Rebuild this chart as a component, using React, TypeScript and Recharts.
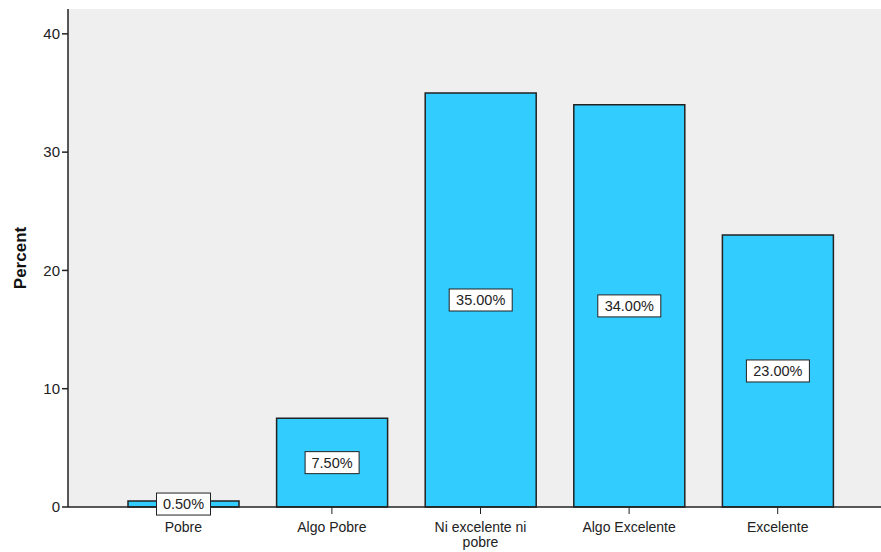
import { Bar, BarChart, CartesianGrid, LabelList, XAxis, YAxis } from "recharts";

// Share of responses per rating, in percent.
const categories = ["Pobre", "Algo Pobre", "Ni excelente ni pobre", "Algo Excelente", "Excelente"];
const percents = [0.5, 7.5, 35, 34, 23];
const yTicks = [0, 10, 20, 30, 40];

const data = categories.map((name, i) => ({ name, value: percents[i] }));

const FONT = "'Liberation Sans', Arial, sans-serif";

// Long category names break onto a second line under the tick.
function wrap(label: string): string[] {
  if (label.length <= 16) return [label];
  const words = label.split(" ");
  const lines: string[] = [];
  let cur = "";
  for (const w of words) {
    const next = cur ? cur + " " + w : w;
    if (next.length > 15 && cur) {
      lines.push(cur);
      cur = w;
    } else cur = next;
  }
  if (cur) lines.push(cur);
  return lines;
}

function CategoryTick({ x, y, payload }: any) {
  const lines = wrap(String(payload.value));
  return (
    <g transform={`translate(${x},${y})`}>
      {lines.map((l, i) => (
        <text
          key={i}
          x={0}
          y={16 + i * 15}
          textAnchor="middle"
          fontFamily={FONT}
          fontSize={14}
          fill="#222"
        >
          {l}
        </text>
      ))}
    </g>
  );
}

// Boxed percent label in the middle of each bar.
function ValueBox({ x, y, width, height, value }: any) {
  const txt = `${Number(value).toFixed(2)}%`;
  const cx = x + width / 2;
  const cy = y + height / 2;
  const w = 54 + (txt.length - 5) * 9;
  const h = 22;
  return (
    <g>
      <rect x={cx - w / 2} y={cy - h / 2} width={w} height={h} fill="#fff" stroke="#222" strokeWidth={1} />
      <text x={cx} y={cy + 5} textAnchor="middle" fontFamily={FONT} fontSize={14.5} fill="#222">
        {txt}
      </text>
    </g>
  );
}

export default function App() {
  return (
    <div style={{ position: "absolute", left: 0, top: 0, background: "#fff" }}>
      <BarChart
        width={881}
        height={552}
        data={data}
        margin={{ top: 9, right: 0, bottom: 0, left: 0 }}
      >
        <CartesianGrid fill="#efefef" horizontal={false} vertical={false} />
        <XAxis
          xAxisId="top"
          orientation="top"
          dataKey="name"
          height={0}
          tick={false}
          tickLine={false}
          axisLine={{ stroke: "#777", strokeWidth: 2 }}
          padding={{ left: 41, right: 29 }}
        />
        <XAxis
          dataKey="name"
          interval={0}
          height={45}
          tick={<CategoryTick />}
          tickLine={{ stroke: "#222" }}
          tickSize={7}
          axisLine={{ stroke: "#222", strokeWidth: 1.5 }}
          padding={{ left: 41, right: 29 }}
        />
        <YAxis
          domain={[0, 42.1]}
          ticks={yTicks}
          width={68}
          tickSize={6}
          tickLine={{ stroke: "#222", strokeWidth: 1.5 }}
          axisLine={{ stroke: "#222", strokeWidth: 1.5 }}
          tick={{ fontFamily: FONT, fontSize: 15, fill: "#222" }}
          label={{
            value: "Percent",
            angle: -90,
            position: "insideLeft",
            offset: 20,
            style: { fontFamily: FONT, fontSize: 17, fontWeight: "bold", fill: "#111", textAnchor: "middle" },
          }}
        />
        <Bar
          dataKey="value"
          fill="#33ccff"
          stroke="#222"
          strokeWidth={1.5}
          barSize={111}
          isAnimationActive={false}
        >
          <LabelList dataKey="value" content={<ValueBox />} />
        </Bar>
      </BarChart>
    </div>
  );
}
